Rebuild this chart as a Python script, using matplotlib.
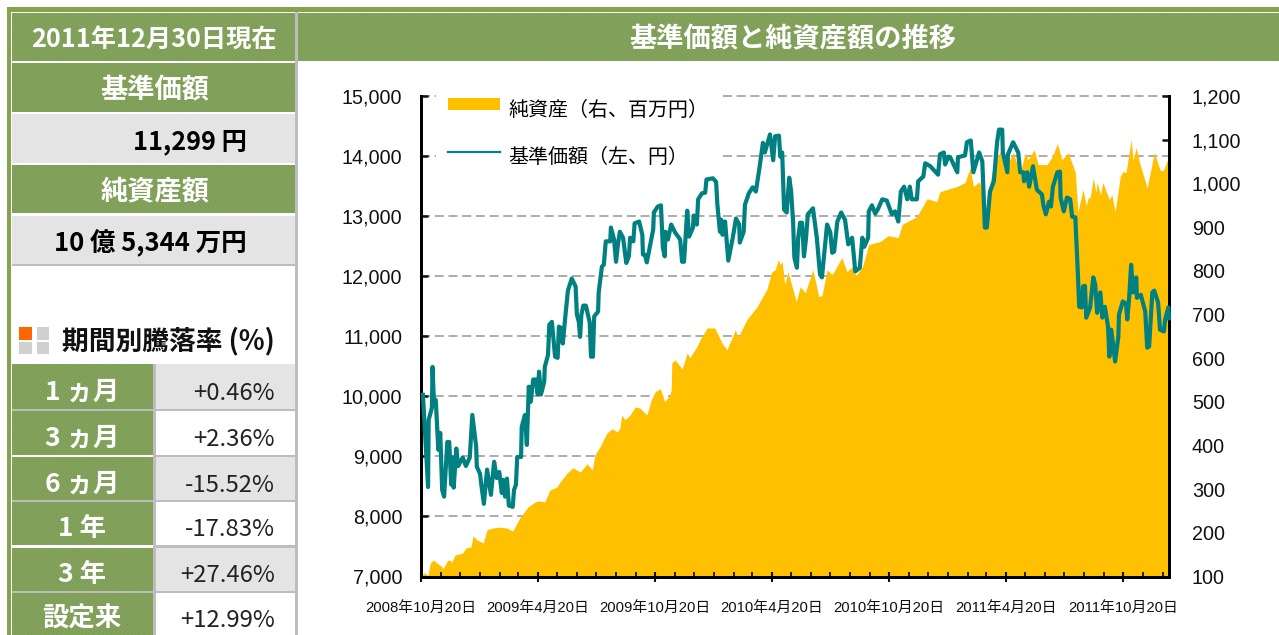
#!/usr/bin/env python3
import matplotlib
matplotlib.use("Agg")
import matplotlib.pyplot as plt
import matplotlib.dates as mdates
import pandas as pd
from matplotlib.lines import Line2D
from matplotlib.patches import Patch, Rectangle

plt.rcParams["font.family"] = ["Liberation Sans", "Noto Sans CJK JP", "DejaVu Sans"]
plt.rcParams["hatch.linewidth"] = 0.4
JP = ["Noto Sans CJK JP", "DejaVu Sans"]

# days since the first date, and values
START = pd.Timestamp("2008-10-20")
END = pd.Timestamp("2011-12-30")

nav_days = [
    3, 11, 12, 17, 18, 20, 23, 27, 30, 33, 36, 41, 44, 47, 48, 51, 55, 58, 65, 70, 76, 80, 86, 87, 92, 94, 98,
    103, 109, 114, 118, 122, 126, 128, 131, 134, 137, 143, 145, 148, 150, 156, 157, 162, 165, 168, 171, 175,
    179, 182, 184, 187, 192, 193, 198, 200, 204, 209, 213, 215, 218, 221, 225, 229, 235, 241, 243, 246, 248,
    250, 253, 257, 263, 265, 268, 270, 276, 277, 282, 285, 288, 295, 296, 301, 304, 307, 310, 315, 320, 324,
    326, 331, 333, 340, 345, 346, 349, 352, 362, 363, 369, 374, 377, 380, 381, 385, 390, 396, 404, 407, 410,
    415, 418, 424, 425, 430, 432, 438, 443, 445, 455, 460, 462, 466, 468, 470, 474, 479, 486, 491, 496, 497,
    503, 505, 511, 517, 522, 528, 533, 536, 544, 549, 552, 558, 560, 563, 566, 570, 574, 577, 580, 582, 586,
    588, 591, 594, 597, 600, 603, 611, 617, 622, 625, 633, 638, 641, 644, 649, 655, 661, 666, 672, 677, 684,
    688, 691, 697, 698, 703, 708, 712, 719, 726, 734, 739, 744, 748, 753, 758, 762, 765, 773, 775, 783, 786,
    794, 806, 809, 815, 817, 822, 825, 836, 837, 848, 851, 857, 861, 870, 875, 879, 882, 887, 893, 898, 901,
    906, 907, 914, 915, 923, 931, 934, 939, 940, 945, 948, 954, 960, 968, 970, 974, 979, 982, 985, 992, 996,
    997, 1002, 1007, 1012, 1015, 1020, 1021, 1024, 1026, 1030, 1032, 1035, 1037, 1043, 1048, 1051, 1054, 1059,
    1062, 1066, 1071, 1073, 1076, 1082, 1087, 1088, 1094, 1099, 1101, 1104, 1107, 1110, 1115, 1116, 1122, 1129,
    1132, 1135, 1140, 1143, 1149, 1152, 1158, 1160, 1165, 1166,
]
nav_values = [
    10025, 8490, 9610, 9810, 10490, 9940, 9940, 9110, 9390, 8440, 8330, 9240, 9240, 8530, 8990, 8480, 9130, 8840,
    8980, 8840, 8980, 9690, 9160, 8830, 8710, 8530, 8210, 8780, 8360, 8910, 8640, 8740, 8390, 8610, 8330, 8630,
    8180, 8160, 8440, 8530, 8990, 8990, 9490, 9690, 9190, 10160, 9910, 10280, 10280, 10030, 10410, 10030, 10240,
    10490, 10690, 11190, 11240, 10660, 10640, 11160, 11140, 10880, 11330, 11760, 11960, 11830, 11360, 11240, 10990,
    11360, 11510, 11510, 11230, 10660, 10660, 11330, 11410, 11730, 12160, 12190, 12580, 12580, 12810, 12610, 12240,
    12530, 12740, 12640, 12220, 12330, 12640, 12580, 12880, 12910, 12690, 12360, 12360, 12230, 12780, 13060, 13160,
    13180, 12480, 12330, 12740, 12610, 12860, 12730, 12610, 12240, 12240, 13090, 12660, 12810, 13010, 12860, 13280,
    13380, 13390, 13610, 13630, 13570, 13190, 12740, 12940, 12690, 12910, 12260, 12640, 12960, 12860, 12560, 12740,
    13190, 13380, 13480, 13410, 13830, 14220, 14060, 14360, 13930, 14330, 14340, 13990, 14060, 13110, 13060, 13640,
    13410, 12910, 12310, 12140, 12640, 12890, 12890, 12330, 12610, 13030, 13130, 12640, 12030, 11980, 12860, 12730,
    12390, 12410, 12910, 13060, 12940, 12530, 12640, 12080, 12140, 12640, 12490, 12640, 13080, 13180, 13040, 13110,
    13280, 13260, 13030, 13080, 12910, 13410, 13490, 13280, 13490, 13280, 13280, 13580, 13660, 13880, 13830, 13690,
    14030, 14060, 13860, 13990, 13980, 13730, 13980, 14010, 14230, 14260, 13730, 14060, 13910, 12810, 12810, 13410,
    13580, 14230, 14440, 14440, 14060, 13730, 14030, 14230, 14060, 13730, 13730, 13580, 13730, 13490, 13830, 13440,
    13360, 13190, 13030, 13240, 13160, 13490, 13730, 13740, 13310, 13080, 13310, 13280, 12990, 12980, 12730, 12030,
    11490, 11480, 11830, 11840, 11310, 11480, 11980, 11860, 11390, 11730, 11310, 11490, 11160, 10660, 11110, 10580,
    10990, 11360, 11580, 11540, 11280, 11660, 12190, 11730, 11980, 11640, 11690, 11410, 10810, 10830, 11730, 11760,
    11560, 11110, 11080, 11280, 11480, 11299,
]

asset_days = [
    0, 5, 11, 14, 19, 33, 34, 41, 45, 48, 53, 65, 70, 78, 81, 87, 97, 103, 112, 123, 134, 143, 154, 162, 167,
    175, 182, 193, 201, 212, 217, 228, 237, 248, 259, 267, 271, 279, 290, 298, 306, 310, 313, 318, 326, 334,
    341, 352, 359, 365, 373, 380, 388, 390, 391, 396, 407, 415, 419, 430, 435, 446, 458, 469, 477, 490, 494,
    508, 524, 539, 547, 552, 557, 560, 563, 567, 572, 585, 591, 599, 611, 620, 625, 633, 641, 656, 664, 672,
    678, 688, 698, 716, 728, 744, 750, 773, 789, 804, 809, 836, 848, 856, 861, 871, 876, 879, 884, 892, 903,
    910, 923, 934, 942, 946, 956, 962, 976, 984, 992, 999, 1009, 1020, 1024, 1032, 1037, 1040, 1043, 1048,
    1052, 1054, 1059, 1063, 1066, 1073, 1077, 1082, 1090, 1094, 1099, 1107, 1110, 1115, 1120, 1132, 1143,
    1152, 1157, 1165, 1166,
]
asset_values = [
    103, 108, 103, 129, 138, 122, 117, 136, 138, 133, 149, 154, 165, 168, 193, 184, 177, 207, 211, 213, 211,
    204, 234, 250, 259, 268, 273, 271, 298, 305, 317, 337, 349, 339, 358, 344, 378, 397, 429, 438, 431, 440,
    470, 459, 470, 488, 486, 470, 504, 523, 530, 500, 516, 527, 589, 596, 575, 612, 601, 626, 642, 669, 669,
    635, 619, 665, 647, 688, 718, 757, 798, 802, 825, 814, 821, 768, 798, 729, 763, 750, 802, 741, 743, 802,
    791, 830, 798, 809, 789, 809, 860, 867, 880, 876, 906, 924, 965, 958, 981, 993, 1002, 1036, 993, 1004,
    963, 910, 979, 1039, 1073, 1032, 1070, 1025, 1070, 1054, 1077, 1043, 1043, 1061, 1091, 1054, 1070, 1025,
    935, 986, 949, 967, 967, 1013, 979, 1002, 974, 1002, 990, 963, 974, 935, 1016, 1027, 1025, 1100, 1054,
    1082, 1048, 990, 1070, 1031, 1029, 1059, 1053.44,
]

nav_ticks = [7000, 8000, 9000, 10000, 11000, 12000, 13000, 14000, 15000]
asset_ticks = [100, 200, 300, 400, 500, 600, 700, 800, 900, 1000, 1100, 1200]
date_ticks = ["2008-10-20", "2009-04-20", "2009-10-20", "2010-04-20", "2010-10-20", "2011-04-20", "2011-10-20"]
date_labels = ["2008年10月20日", "2009年4月20日", "2009年10月20日", "2010年4月20日",
               "2010年10月20日", "2011年4月20日", "2011年10月20日"]

period_labels = ["1 ヵ月", "3 ヵ月", "6 ヵ月", "1 年", "3 年", "設定来"]
period_values = ["+0.46%", "+2.36%", "-15.52%", "-17.83%", "+27.46%", "+12.99%"]

GREEN = "#7F9F58"
BORDER = "#86A24E"
LIGHT = "#E4E4E4"
RULE = "#BDBDBD"
TEAL = "#008080"
GOLD = "#FFC000"

fig = plt.figure(figsize=(12.79, 6.35), dpi=100, facecolor="white")

# page furniture, in pixel coordinates
page = fig.add_axes([0, 0, 1, 1], zorder=0)
page.set_xlim(0, 1279)
page.set_ylim(635, 0)
page.axis("off")


def box(x0, y0, x1, y1, color, textured=False):
    page.add_patch(Rectangle((x0, y0), x1 - x0, y1 - y0, facecolor=color, edgecolor="none", lw=0))
    if textured:
        page.add_patch(Rectangle((x0, y0), x1 - x0, y1 - y0, facecolor="none", edgecolor="#8BAA64",
                                 hatch="\\\\\\\\\\\\\\\\", lw=0))


def label(x, y, s, size=19.6, color="white", ha="center", weight="bold"):
    page.text(x, y + 2.5, s, fontsize=size, color=color, ha=ha, va="center", weight=weight, family=JP)


box(7, 7, 1279, 12, BORDER)
box(7, 7, 11, 635, BORDER)
box(295, 12, 298, 635, RULE)
box(12, 13, 295, 61, GREEN, True)
box(298, 13, 1279, 61, GREEN, True)
box(12, 63, 295, 112, GREEN, True)
box(12, 114, 295, 163, LIGHT)
box(12, 165, 295, 213, GREEN, True)
box(12, 216, 295, 264, LIGHT)
box(12, 264, 295, 266, RULE)

label(154, 38, "2011年12月30日現在", size=18.2)
label(793, 37, "基準価額と純資産額の推移")
label(155, 88, "基準価額")
label(155, 189, "純資産額")
label(247, 139, "11,299 円", size=18.2, color="black", ha="right")
label(247, 241, "10 億 5,344 万円", size=18.4, color="black", ha="right")

box(19, 327, 32, 340, "#FF6600")
box(37, 327, 49, 340, "#D0D0D0")
box(19, 342, 32, 354, "#D0D0D0")
box(37, 342, 49, 354, "#D0D0D0")
label(62, 338, "期間別騰落率 (%)", size=19.3, ha="left", color="#111111")

row_tops = [364, 411, 457, 502, 548, 593]
row_bottoms = [409, 455, 500, 545, 591, 635]
for i, (name, value) in enumerate(zip(period_labels, period_values)):
    top, bottom = row_tops[i], row_bottoms[i]
    box(12, top, 153, bottom, GREEN, True)
    box(153, top, 156, bottom, RULE)
    box(156, top, 295, bottom, LIGHT if i % 2 == 0 else "white")
    if i < 5:
        box(12, bottom, 295, row_tops[i + 1], RULE if i % 2 == 0 else "white")
        box(153, bottom, 295, row_tops[i + 1], RULE)
    label(82, (top + bottom) / 2 + 3, name, size=19)
    label(275, (top + bottom) / 2 + 4, value, size=17.2, color="#222222", ha="right", weight="normal")

# the chart: fill on the right scale under the line on the left scale
pos = [421 / 1279, (635 - 576.5) / 635, 748 / 1279, 480.5 / 635]
ax_nav = fig.add_axes(pos, zorder=3)
ax_nav.patch.set_visible(False)
ax_assets = ax_nav.twinx()
ax_assets.set_zorder(2)
ax_assets.patch.set_visible(False)

asset_dates = START + pd.to_timedelta(asset_days, unit="D")
nav_dates = START + pd.to_timedelta(nav_days, unit="D")

for v in nav_ticks[1:]:
    ax_assets.plot([0, 1], [v, v], transform=ax_nav.get_yaxis_transform(), color="#A6A6A6", lw=1.3,
                   dashes=(5, 2.6), zorder=1, clip_on=False)
ax_assets.fill_between(asset_dates, 100, asset_values, color=GOLD, lw=0, zorder=2)
ax_nav.plot(nav_dates, nav_values, color=TEAL, lw=3.0, zorder=3, clip_on=False)

ax_nav.set_xlim(START, END)
ax_nav.set_ylim(7000, 15000)
ax_assets.set_ylim(100, 1200)

ax_nav.set_yticks(nav_ticks, [f"{v:,}" for v in nav_ticks])
ax_assets.set_yticks(asset_ticks, [f"{v:,}" for v in asset_ticks])
ax_nav.set_xticks(pd.to_datetime(date_ticks), date_labels)
ax_nav.xaxis.set_minor_locator(mdates.MonthLocator(bymonthday=20))

ax_nav.tick_params(axis="y", direction="in", length=5, width=1.8, pad=13.5, labelsize=14.2, colors="#111111")
ax_assets.tick_params(axis="y", direction="in", length=5, width=1.8, pad=16.5, labelsize=14.2, colors="#111111")
ax_nav.tick_params(axis="x", which="major", direction="inout", length=7, width=1.5, pad=14, labelsize=10.7,
                   colors="#111111")
ax_nav.tick_params(axis="x", which="minor", direction="in", length=3.5, width=1.3, colors="#111111")

for a in (ax_nav, ax_assets):
    a.spines["top"].set_visible(False)
    for side in ("left", "right", "bottom"):
        a.spines[side].set_linewidth(2)
        a.spines[side].set_color("black")

handles = [Patch(facecolor=GOLD, edgecolor="none"), Line2D([], [], color=TEAL, lw=1.6)]
leg = ax_nav.legend(handles, ["純資産（右、百万円）", "基準価額（左、円）"], loc="upper left",
                    bbox_to_anchor=(0.020, 1.027), frameon=True, framealpha=1, facecolor="white",
                    edgecolor="none", fancybox=False, handlelength=2.6, handleheight=0.5, handletextpad=0.4,
                    labelspacing=1.3, prop={"family": JP, "size": 14.4}, borderaxespad=0, borderpad=0.6)
leg.set_zorder(2)
for t in leg.get_texts():
    t.set_position((0, -5))

fig.savefig("out.png", dpi=100)
plt.close(fig)
